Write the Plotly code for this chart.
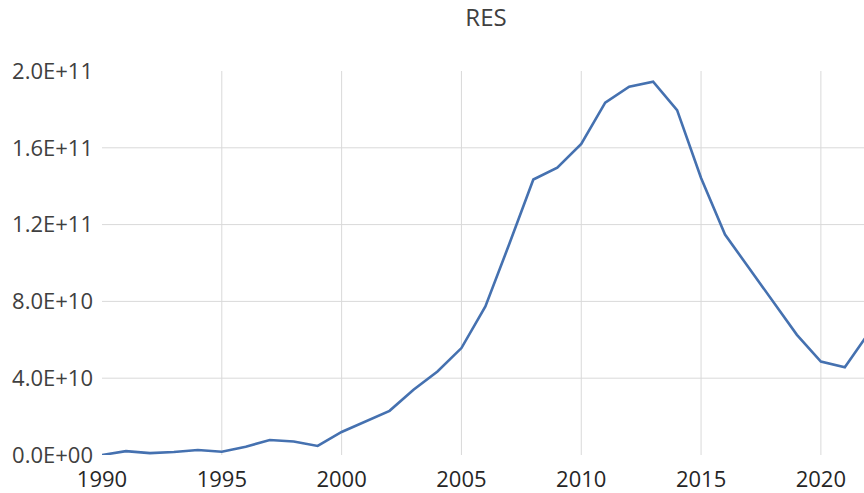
import plotly.graph_objects as go

years = list(range(1990, 2023))
res_values = [
    0.0e9, 2.0e9, 1.0e9, 1.6e9, 2.6e9, 1.7e9, 4.3e9, 7.8e9, 7.0e9, 4.7e9,
    1.20e10, 1.77e10, 2.30e10, 3.40e10, 4.35e10, 5.57e10, 7.74e10, 1.10e11, 1.435e11, 1.496e11,
    1.62e11, 1.835e11, 1.918e11, 1.944e11, 1.796e11, 1.443e11, 1.148e11, 9.74e10, 8.0e10, 6.26e10,
    4.87e10, 4.57e10, 6.36e10,
]
y_ticks = [0, 4e10, 8e10, 1.2e11, 1.6e11, 2.0e11]
y_tick_text = ["0.0E+00", "4.0E+10", "8.0E+10", "1.2E+11", "1.6E+11", "2.0E+11"]
x_ticks = [1990, 1995, 2000, 2005, 2010, 2015, 2020]
title_text = "RES"

grid_color = "#d9d9d9"
font_family = "Open Sans, Noto Sans, sans-serif"

fig = go.Figure()
fig.add_trace(go.Scatter(
    x=years, y=res_values, mode="lines",
    line=dict(color="#4571b0", width=2.6),
    hoverinfo="x+y",
))

shapes = []
for yv in y_ticks[1:-1]:
    shapes.append(dict(type="line", xref="paper", yref="y", x0=0, x1=1, y0=yv, y1=yv,
                       line=dict(color=grid_color, width=1), layer="below"))
for xv in x_ticks[1:]:
    shapes.append(dict(type="line", xref="x", yref="paper", x0=xv, x1=xv, y0=0, y1=1,
                       line=dict(color=grid_color, width=1), layer="below"))

fig.update_layout(
    width=864, height=493,
    margin=dict(l=102, r=0, t=71, b=38),
    paper_bgcolor="white", plot_bgcolor="white",
    showlegend=False,
    shapes=shapes,
    title=dict(text=title_text, x=486 / 864, xanchor="center", y=1 - 18 / 493, yanchor="middle",
               font=dict(family=font_family, size=24, color="#404040")),
    xaxis=dict(range=[1990, 2021.8], tickvals=x_ticks, showgrid=False, zeroline=False,
               showline=False, ticks="", ticklabelstandoff=9,
               tickfont=dict(family=font_family, size=22, color="#262626"),
               fixedrange=True),
    yaxis=dict(range=[0, 2.0e11], tickvals=y_ticks, ticktext=y_tick_text, showgrid=False,
               zeroline=False, showline=False, ticks="", ticklabelstandoff=8,
               tickfont=dict(family=font_family, size=22, color="#404040"), fixedrange=True),
)

fig.write_html("out.html")
